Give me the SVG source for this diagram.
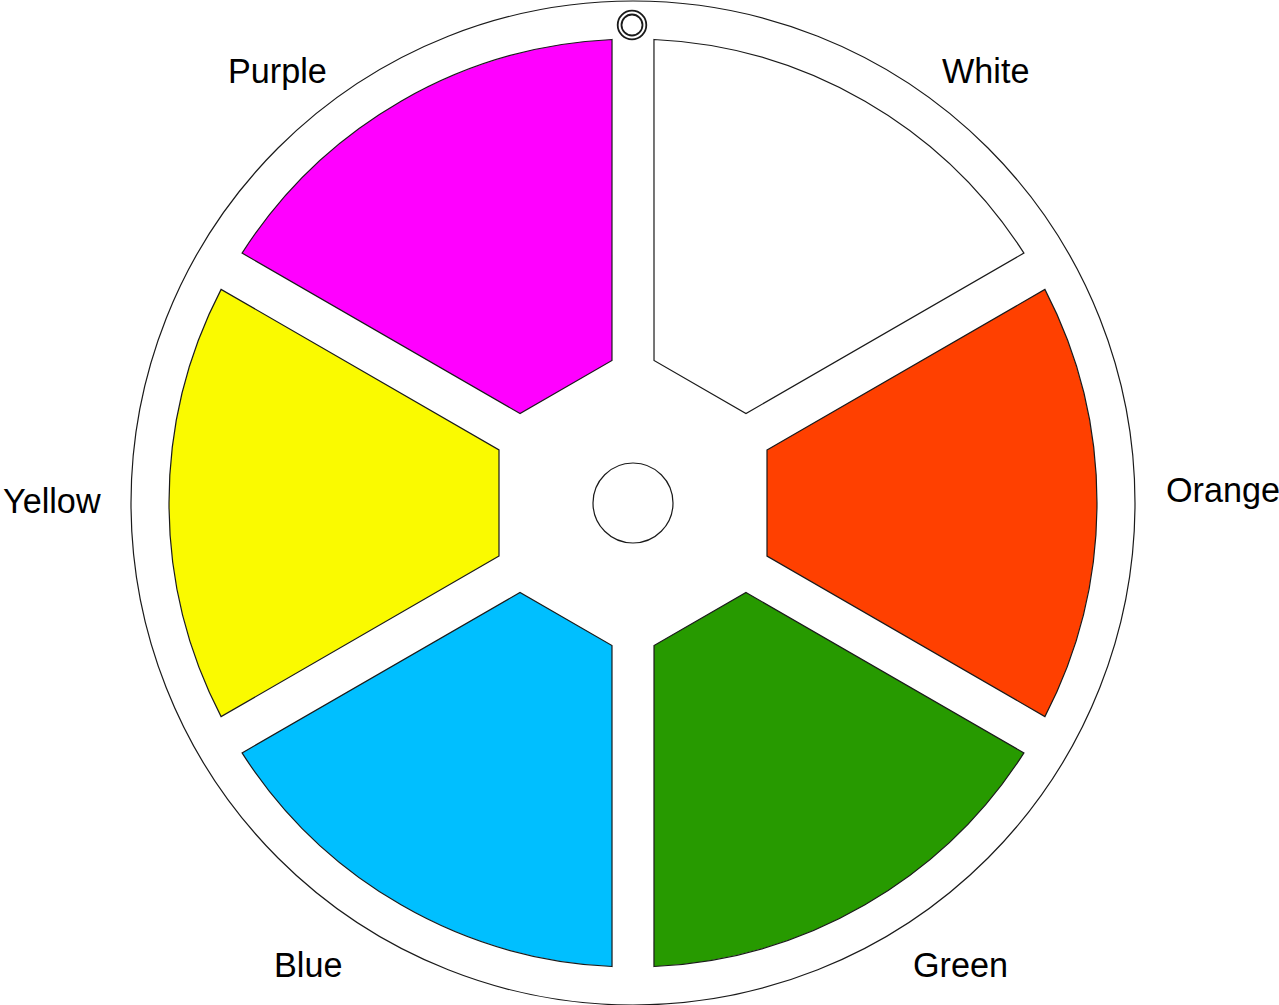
<svg xmlns="http://www.w3.org/2000/svg" xmlns:xlink="http://www.w3.org/1999/xlink" width="1279" height="1005" viewBox="0 0 1279 1005">
<style>
.ring{fill:#fff;stroke:#1a1a1a;stroke-width:1.2}
.sec{stroke:#1a1a1a;stroke-width:1.2}
.lbl{font-family:"Liberation Sans",Arial,sans-serif;font-size:34.2px;fill:#000}
</style>
<defs>
<path id="sector" d="M134,-53.1 L411.9,-213.6 A464,464 0 0 1 411.9,213.6 L134,53.1 Z"/>
</defs>
<rect width="1279" height="1005" fill="#fff"/>
<g id="wheel">
<circle class="ring" cx="633" cy="503" r="502"/>
</g>
<g id="pin">
<circle cx="632" cy="25" r="14.3" fill="none" stroke="#1a1a1a" stroke-width="1.8"/>
<circle cx="632" cy="25" r="10.5" fill="none" stroke="#1a1a1a" stroke-width="1.8"/>
</g>
<g id="white">
<use xlink:href="#sector" class="sec" fill="#ffffff" transform="translate(633,503) rotate(-60)"/>
<text class="lbl" x="942" y="83">White</text>
</g>
<g id="purple">
<use xlink:href="#sector" class="sec" fill="#ff00ff" transform="translate(633,503) rotate(-120)"/>
<text class="lbl" x="228" y="83">Purple</text>
</g>
<g id="yellow">
<use xlink:href="#sector" class="sec" fill="#fafa00" transform="translate(633,503) rotate(180)"/>
<text class="lbl" x="3" y="513">Yellow</text>
</g>
<g id="blue">
<use xlink:href="#sector" class="sec" fill="#00bfff" transform="translate(633,503) rotate(120)"/>
<text class="lbl" x="274" y="977">Blue</text>
</g>
<g id="green">
<use xlink:href="#sector" class="sec" fill="#279a00" transform="translate(633,503) rotate(60)"/>
<text class="lbl" x="913" y="977">Green</text>
</g>
<g id="orange">
<use xlink:href="#sector" class="sec" fill="#ff4000" transform="translate(633,503)"/>
<text class="lbl" x="1166" y="502">Orange</text>
</g>
<g id="hub">
<circle class="ring" cx="633" cy="503" r="40"/>
</g>
</svg>
